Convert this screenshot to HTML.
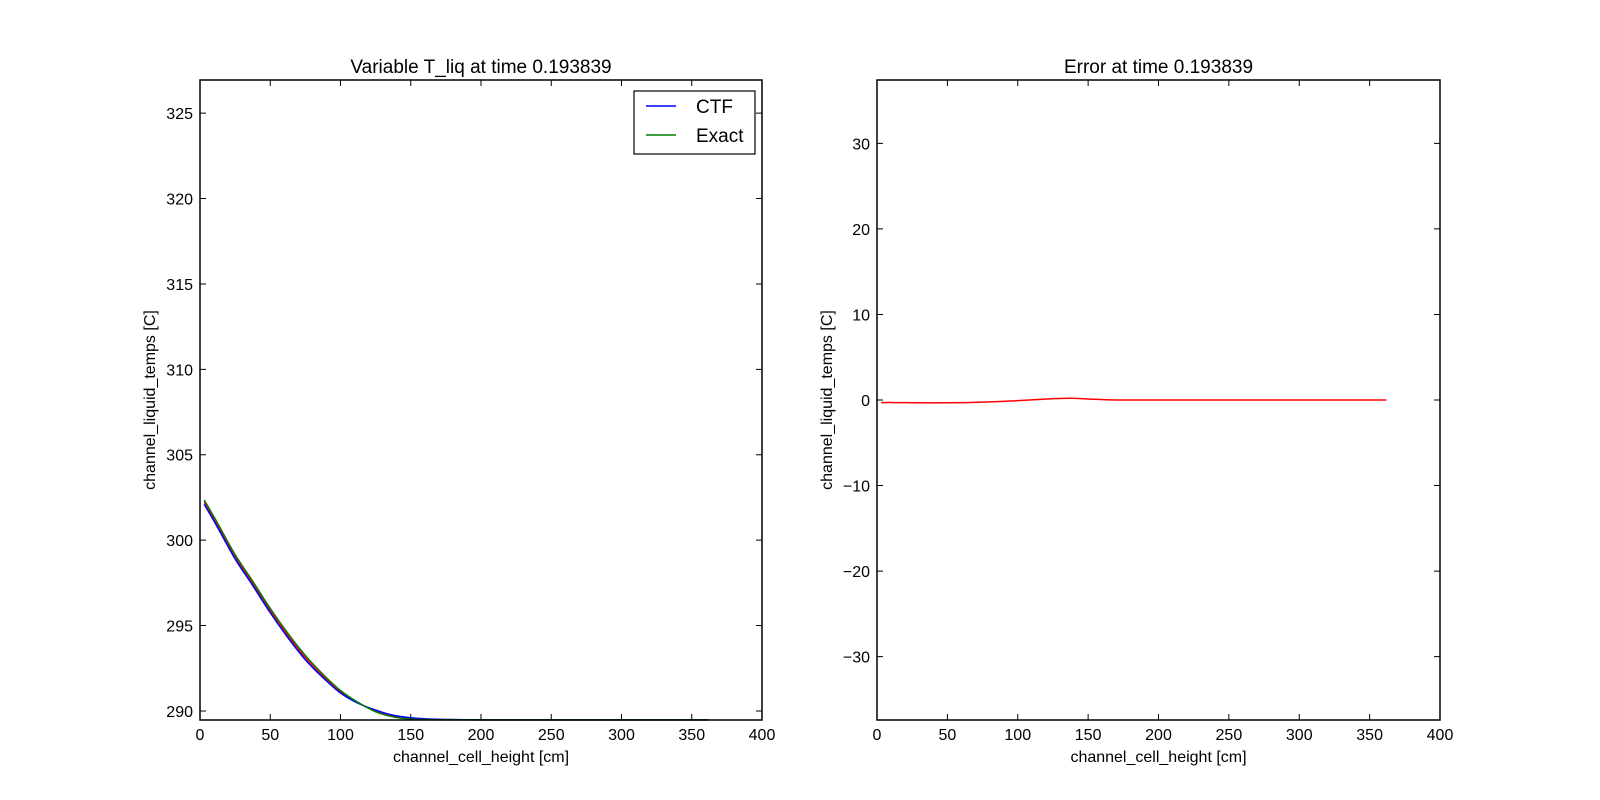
<!DOCTYPE html>
<html><head><meta charset="utf-8"><style>
body{margin:0;background:#fff;}
svg{display:block;font-family:"Liberation Sans",sans-serif;}
</style></head><body>
<svg id="fig" width="1600" height="800" xmlns="http://www.w3.org/2000/svg">
<rect width="1600" height="800" fill="#fff"/>
</svg>
<script>
const xs       = [3, 12.5, 25, 37.5, 50, 62.5, 75, 87.5, 100, 112.5, 125, 137.5, 150, 162.5, 175, 200, 250, 300, 362];
const ctfVals  = [302.1, 300.75, 298.9, 297.35, 295.75, 294.3, 293.0, 291.95, 291.05, 290.45, 290.05, 289.75, 289.6, 289.53, 289.5, 289.48, 289.48, 289.48, 289.48];
const exactVals= [302.35, 301.0, 299.15, 297.6, 296.0, 294.55, 293.25, 292.15, 291.2, 290.5, 289.95, 289.65, 289.52, 289.49, 289.48, 289.48, 289.48, 289.48, 289.48];
const errVals  = [-0.3, -0.3, -0.32, -0.33, -0.32, -0.3, -0.25, -0.18, -0.08, 0.05, 0.15, 0.2, 0.12, 0.03, 0.0, 0.0, 0.0, 0.0, 0.0];
const xTicks   = [0, 50, 100, 150, 200, 250, 300, 350, 400];
const yTicksL  = [290, 295, 300, 305, 310, 315, 320, 325];
const yTicksR  = [-30, -20, -10, 0, 10, 20, 30];

const NS = "http://www.w3.org/2000/svg";
const svg = document.getElementById('fig');
function mk(tag, attrs, parent){
  const e = document.createElementNS(NS, tag);
  for (const k in attrs) e.setAttribute(k, attrs[k]);
  (parent||svg).appendChild(e);
  return e;
}
function axes(x0, x1, y0, y1, xmin, xmax, ymin, ymax){
  return {
    sx: v => x0 + (v - xmin) / (xmax - xmin) * (x1 - x0),
    sy: v => y1 - (v - ymin) / (ymax - ymin) * (y1 - y0),
    x0, x1, y0, y1
  };
}
function drawAxes(a, yTicks, fmt, title, tname, ylabelX, pfx){
  for (const t of xTicks){
    const x = a.sx(t);
    const tk = mk('path', {d:`M${x},${a.y1}v-6M${x},${a.y0}v6`, stroke:'#000', 'stroke-width':1});
    
    
    const lb = mk('text', {x:x, y:a.y1+20, 'font-size':16, 'text-anchor':'middle'});
    lb.textContent = t;
    
    
  }
  for (const t of yTicks){
    const y = a.sy(t);
    const tk = mk('path', {d:`M${a.x0},${y}h6M${a.x1},${y}h-6`, stroke:'#000', 'stroke-width':1});
    
    
    const lb = mk('text', {x:a.x0-7, y:y+6, 'font-size':16, 'text-anchor':'end'});
    lb.textContent = fmt(t);
    
    
  }
  const tt = mk('text', {x:(a.x0+a.x1)/2, y:73, 'font-size':19, 'text-anchor':'middle'});
  tt.textContent = title;
  
  
  const xl = mk('text', {x:(a.x0+a.x1)/2, y:762, 'font-size':16, 'text-anchor':'middle'});
  xl.textContent = 'channel_cell_height [cm]';
  
  
  const cy = (a.y0+a.y1)/2;
  const yl = mk('text', {x:ylabelX, y:cy, 'font-size':16, 'text-anchor':'middle', transform:`rotate(-90 ${ylabelX} ${cy})`});
  yl.textContent = 'channel_liquid_temps [C]';
  
  
}
function smoothPath(P){
  let d = `M${P[0][0].toFixed(2)},${P[0][1].toFixed(2)}`;
  for (let i=0;i<P.length-1;i++){
    const p0=P[Math.max(i-1,0)], p1=P[i], p2=P[i+1], p3=P[Math.min(i+2,P.length-1)];
    const c1=[p1[0]+(p2[0]-p0[0])/6, p1[1]+(p2[1]-p0[1])/6];
    const c2=[p2[0]-(p3[0]-p1[0])/6, p2[1]-(p3[1]-p1[1])/6];
    d += ` C${c1[0].toFixed(2)},${c1[1].toFixed(2)} ${c2[0].toFixed(2)},${c2[1].toFixed(2)} ${p2[0].toFixed(2)},${p2[1].toFixed(2)}`;
  }
  return d;
}
function line(a, vals, color, name){
  const P = xs.map((x,i)=>[a.sx(x), a.sy(vals[i])]);
  const p = mk('path', {d:smoothPath(P), fill:'none', stroke:color, 'stroke-width':1.5, 'stroke-linejoin':'round'});
  
  
}
function frame(a, name){
  const r = mk('rect', {x:a.x0, y:a.y0, width:a.x1-a.x0, height:a.y1-a.y0, fill:'none', stroke:'#000', 'stroke-width':1.5});
  
  
}

// Left plot
const L = axes(200, 762, 80, 720, 0, 400, 289.47, 326.94);
line(L, ctfVals.map((c,i)=>(c+exactVals[i])/2), '#ff0000', 'mid-line');
line(L, ctfVals, '#0000ff', 'ctf-line');
line(L, exactVals, '#008000', 'exact-line');
frame(L, 'left-plot-frame');
drawAxes(L, yTicksL, t=>String(t), 'Variable T_liq at time 0.193839', 'left-chart-title', 155, 'left');

// Legend
const lg = mk('rect', {x:634, y:91, width:121, height:63, fill:'#fff', stroke:'#000', 'stroke-width':1.2});


const l1 = mk('line', {x1:646, x2:676, y1:106, y2:106, stroke:'#0000ff', 'stroke-width':1.5});


const t1 = mk('text', {x:696, y:113, 'font-size':19}); t1.textContent = 'CTF';


const l2 = mk('line', {x1:646, x2:676, y1:135, y2:135, stroke:'#008000', 'stroke-width':1.5});


const t2 = mk('text', {x:696, y:142, 'font-size':19}); t2.textContent = 'Exact';



// Right plot
const R = axes(877, 1440, 80, 720, 0, 400, -37.4, 37.4);
line(R, errVals, '#ff0000', 'error-line');
frame(R, 'right-plot-frame');
drawAxes(R, yTicksR, t=>t<0?'\u2212'+(-t):String(t), 'Error at time 0.193839', 'right-chart-title', 832, 'right');
</script>
</body></html>
